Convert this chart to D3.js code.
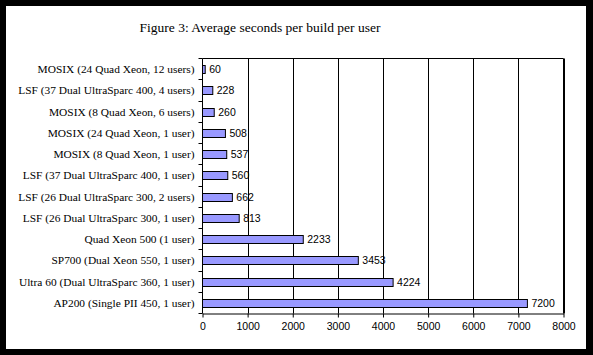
<!DOCTYPE html>
<html><head><meta charset="utf-8">
<script src="https://cdn.jsdelivr.net/npm/d3@7"></script>
<style>body{margin:0;background:#000;}svg{display:block;}</style>
</head><body>
<script>
const categories = [
  "MOSIX (24 Quad Xeon, 12 users)",
  "LSF (37 Dual UltraSparc 400, 4 users)",
  "MOSIX (8 Quad Xeon, 6 users)",
  "MOSIX (24 Quad Xeon, 1 user)",
  "MOSIX (8 Quad Xeon, 1 user)",
  "LSF (37 Dual UltraSparc 400, 1 user)",
  "LSF (26 Dual UltraSparc 300, 2 users)",
  "LSF (26 Dual UltraSparc 300, 1 user)",
  "Quad Xeon 500 (1 user)",
  "SP700 (Dual Xeon 550, 1 user)",
  "Ultra 60 (Dual UltraSparc 360, 1 user)",
  "AP200 (Single PII 450, 1 user)"
];
const values = [60, 228, 260, 508, 537, 560, 662, 813, 2233, 3453, 4224, 7200];
const xTicks = [0, 1000, 2000, 3000, 4000, 5000, 6000, 7000, 8000];
const title = "Figure 3: Average seconds per build per user";

const W = 593, H = 355;
const svg = d3.select("body").append("svg").attr("width", W).attr("height", H);
svg.append("rect").attr("x",0).attr("y",0).attr("width",W).attr("height",H).attr("fill","#000");
svg.append("rect").attr("x",6).attr("y",6).attr("width",580).attr("height",343).attr("fill","#fff");

const L = 202.5, R = 563.5, T = 58.5, B = 313.5;
const x = d3.scaleLinear().domain([0, 8000]).range([L, R]);
const y = d3.scaleBand().domain(categories).range([T, B]);

svg.append("text").attr("x", 260).attr("y", 32).attr("text-anchor","middle")
  .attr("font-family","'Liberation Serif', serif").attr("font-size","13.5px").text(title);

// gridlines
svg.append("g").selectAll("line").data(xTicks.slice(1)).join("line")
  .attr("x1", d=>Math.round(x(d))+0.5).attr("x2", d=>Math.round(x(d))+0.5)
  .attr("y1", T).attr("y2", B).attr("stroke","#000");
// plot border top/right
svg.append("path").attr("d", `M${L},${T}H${R}V${B}`).attr("fill","none").attr("stroke","#000");

// bars
const bh = 8;
svg.append("g").selectAll("rect").data(values).join("rect")
  .attr("x", L).attr("y", (d,i)=>Math.round(y(categories[i]) + y.bandwidth()/2 - bh/2)+0.5)
  .attr("width", d=>x(d)-L).attr("height", bh)
  .attr("fill","#9999ff").attr("stroke","#000");

// value labels
svg.append("g").selectAll("text").data(values).join("text")
  .attr("x", d=>x(d)+4).attr("y", (d,i)=>y(categories[i]) + y.bandwidth()/2 + 4)
  .attr("font-family","'Liberation Sans', Arial, sans-serif").attr("font-size","10.5px")
  .text(d=>d);

// x axis
const xa = svg.append("g").attr("transform", `translate(0,${B})`)
  .call(d3.axisBottom(x).tickValues(xTicks).tickSize(4).tickSizeOuter(0).tickFormat(d3.format("d")));
xa.select(".domain").attr("stroke","#000");
xa.selectAll(".tick line").attr("stroke","#000");
xa.selectAll("text").attr("font-family","'Liberation Sans', Arial, sans-serif").attr("font-size","10.5px").attr("fill","#000").attr("dy","0.9em");

// y axis: ticks at band boundaries
svg.append("line").attr("x1",L).attr("x2",L).attr("y1",T).attr("y2",B).attr("stroke","#000");
const bounds = d3.range(categories.length+1).map(i => T + i*y.step());
svg.append("g").selectAll("line").data(bounds).join("line")
  .attr("x1", L-4).attr("x2", L).attr("y1", d=>Math.round(d-0.5)+0.5).attr("y2", d=>Math.round(d-0.5)+0.5).attr("stroke","#000");
svg.append("g").selectAll("text").data(categories).join("text")
  .attr("x", L-8).attr("y", d=>y(d)+y.bandwidth()/2+4).attr("text-anchor","end")
  .attr("font-family","'Liberation Serif', serif").attr("font-size","11.4px").text(d=>d);
</script>
</body></html>
